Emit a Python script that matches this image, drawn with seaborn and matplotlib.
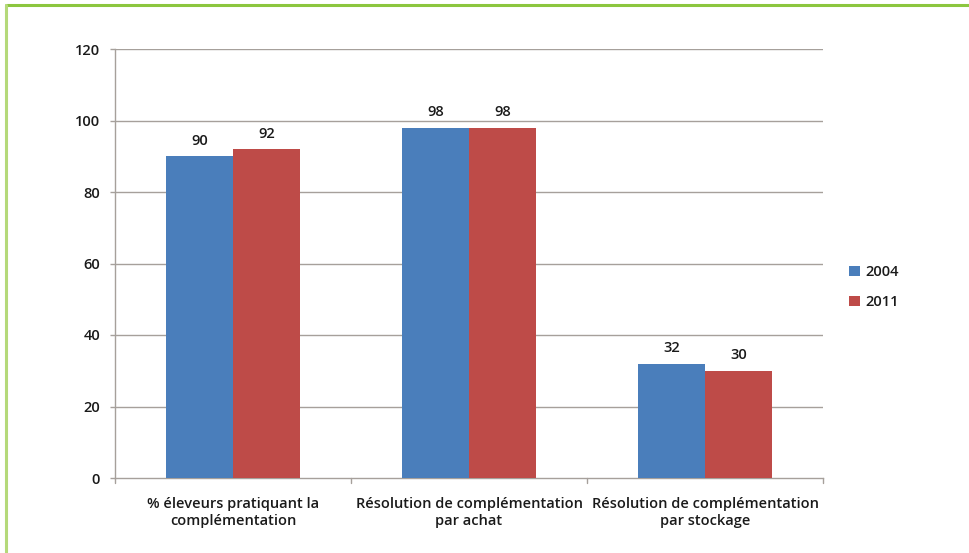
import matplotlib
matplotlib.use("Agg")
import matplotlib.pyplot as plt
import seaborn as sns
import pandas as pd
from matplotlib.patches import Patch
from matplotlib.lines import Line2D

categories = ["% éleveurs pratiquant la\ncomplémentation",
              "Résolution de complémentation\npar achat",
              "Résolution de complémentation\npar stockage"]
series_names = ["2004", "2011"]
values_2004 = [90, 98, 32]
values_2011 = [92, 98, 30]
y_ticks = [0, 20, 40, 60, 80, 100, 120]

colors = ["#4a7ebb", "#be4b48"]

df = pd.DataFrame({
    "cat": categories * 2,
    "year": [series_names[0]] * 3 + [series_names[1]] * 3,
    "val": values_2004 + values_2011,
})

sns.set_theme(style="white")
plt.rcParams['font.family'] = ['Open Sans', 'DejaVu Sans']
plt.rcParams['font.weight'] = 'semibold'

TXT = "#1a1a1a"
FS = 10.5

fig = plt.figure(figsize=(9.69, 5.53), dpi=100)
ax = fig.add_axes([115/969, 1-478/553, (823-115)/969, (478-49)/553])

sns.barplot(data=df, x="cat", y="val", hue="year", palette=colors,
            width=0.568, gap=0, dodge=True, ax=ax, legend=False,
            saturation=1, edgecolor="none", linewidth=0, zorder=3)

ax.set_ylim(0, 120)
ax.set_xlim(-0.5, 2.5)
ax.set_yticks(y_ticks)
ax.set_yticklabels([str(t) for t in y_ticks])
ax.set_xlabel("")
ax.set_ylabel("")

grid_c = "#a6a09b"
for t in y_ticks[1:]:
    ax.axhline(t, color=grid_c, lw=1.0, zorder=1)

for s in ["top", "right"]:
    ax.spines[s].set_visible(False)
for s in ["left", "bottom"]:
    ax.spines[s].set_color(grid_c)
    ax.spines[s].set_linewidth(1.0)

ax.set_xticks([0, 1, 2])
ax.set_xticklabels(categories)
ax.tick_params(axis="x", length=0, pad=14, labelsize=FS, colors=TXT)
ax.tick_params(axis="y", length=3.6, width=1, color=grid_c, pad=7.2, labelsize=FS, labelcolor=TXT, left=True)
# boundary ticks on the x axis
for xb in [-0.5, 0.5, 1.5, 2.5]:
    ax.plot([xb, xb], [0, -1.3], color=grid_c, lw=1, clip_on=False, transform=ax.transData)

for cont in ax.containers:
    ax.bar_label(cont, labels=[f"{v:.0f}" for v in cont.datavalues],
                 padding=6, fontsize=FS, color=TXT)

handles = [Patch(facecolor=c, edgecolor="none", label=n) for c, n in zip(colors, series_names)]
fig.legend(handles=handles, loc="center left", bbox_to_anchor=(836/969, 1-287/553),
           frameon=False, fontsize=FS, handlelength=0.75, handleheight=0.75,
           handletextpad=0.35, labelspacing=1.1, labelcolor=TXT)

# green frame lines (top and left)
fig.add_artist(Line2D([6/969, 1], [1-5/553, 1-5/553], color="#8cc63f", lw=2.2, transform=fig.transFigure))
fig.add_artist(Line2D([6/969, 6/969], [0, 1-5/553], color="#b5d97a", lw=2.2, transform=fig.transFigure))

fig.savefig("out.png", dpi=100)
